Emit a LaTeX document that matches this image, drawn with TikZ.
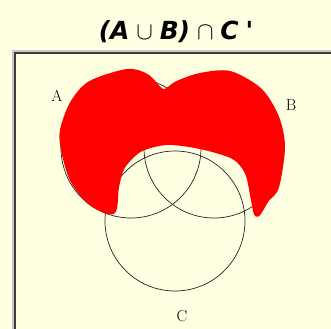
\documentclass[tikz,border=0pt]{standalone}
\usepackage{fontspec}
\newfontfamily\titlefont{DejaVu Sans}
\definecolor{paper}{RGB}{255,255,226}
\definecolor{frame}{RGB}{60,60,60}
\definecolor{scribble}{RGB}{255,0,0}
\tikzset{
  venn/.style={circle, draw=black!85, line width=0.7bp, minimum size=140bp, inner sep=0pt},
  setlabel/.style={font=\fontsize{16}{18}\selectfont, inner sep=0pt}
}
\begin{document}
\begin{tikzpicture}[x=1bp, y=-1bp]

		% --- Page and frame ---
		\fill[paper] (0,0) rectangle (331,329);
		\useasboundingbox (0,0) rectangle (331,329);
		\draw[black!22, line width=2bp] (13,340) |- (340,51);
		\draw[frame, line width=2bp] (15,340) |- (340,53);

		% --- Title ---
		\node[font=\titlefont\fontsize{25}{27}\selectfont\bfseries\itshape] (title) at (176,32) {(A$\;\cup\;$B)$\;\cap\;$C$\;$'};

		% --- Circles ---
		\node[venn] (circA) at (131,148) {};
		\node[venn] (circB) at (214,148) {};
		\node[venn] (circC) at (175,221) {};

		% --- Set labels ---
		\foreach \name/\x/\y in {A/57/96, B/291/105, C/182/316} {
			\node[setlabel] (lab\name) at (\x,\y) {\name};
		}

		% --- Shaded region (A union B) minus C ---
		\draw[scribble, fill=scribble, line width=4bp, line join=round]
			plot[smooth cycle, tension=0.5] coordinates {
			(113,212) (90,203) (72,180) (63,150) (62,130) (72,103) (90,83)
			(127,71) (147,76) (163,91) (177,83) (200,75) (230,73) (260,90)
			(277,117) (283,147) (277,187) (267,200) (257,215) (253,200)
			(247,173) (233,157) (200,147) (167,143) (140,150) (123,167) (117,187)};

	\end{tikzpicture}
\end{document}
